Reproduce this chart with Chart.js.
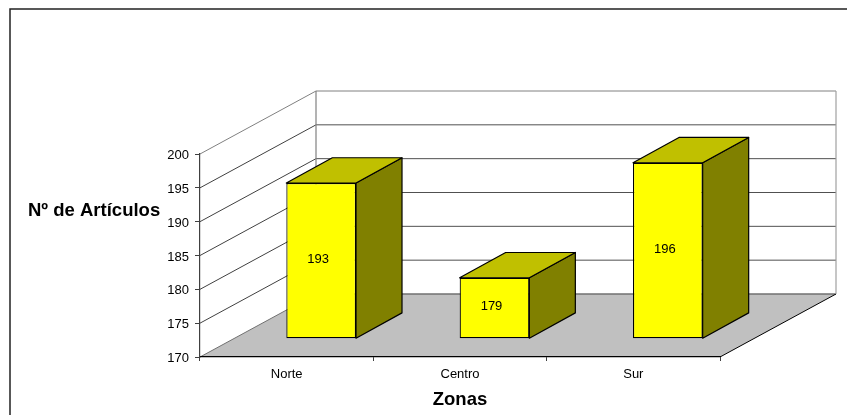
<!DOCTYPE html>
<html>
<head>
<meta charset="utf-8">
<style>
  html, body { margin: 0; padding: 0; background: #fff; overflow: hidden; }
  canvas { display: block; }
</style>
<script src="https://cdn.jsdelivr.net/npm/chart.js@4"></script>
</head>
<body>
<canvas id="chart" width="847" height="415"></canvas>
<script>
const categories = ['Norte', 'Centro', 'Sur'];
const articles = [193, 179, 196];
const yMin = 170;
const yMax = 200;
const yStep = 5;
const xTitle = 'Zonas';
const yTitle = 'Nº de Artículos';

const FONT = '"Liberation Sans", Arial, sans-serif';

// depth of the 3D box, in pixels
const depthX = 116;
const depthY = -63;
const barFrontX = 34.5;
const barFrontY = -18.3;
const barDepthX = 46;
const barDepthY = -25.3;

function poly(ctx, pts, fill, stroke, lineWidth) {
    ctx.beginPath();
    pts.forEach((p, i) => i ? ctx.lineTo(p[0], p[1]) : ctx.moveTo(p[0], p[1]));
    ctx.closePath();
    if (fill) {
        ctx.fillStyle = fill;
        ctx.fill();
    }
    if (stroke) {
        ctx.strokeStyle = stroke;
        ctx.lineWidth = lineWidth || 1;
        ctx.stroke();
    }
}

function line(ctx, x1, y1, x2, y2, color, lineWidth) {
    ctx.beginPath();
    ctx.moveTo(x1, y1);
    ctx.lineTo(x2, y2);
    ctx.strokeStyle = color;
    ctx.lineWidth = lineWidth || 1;
    ctx.stroke();
}

// Frame, walls, floor and gridlines, drawn before the axes so the axis lines stay on top
const box3d = {
    id: 'box3d',
    beforeDraw(chart) {
        const ctx = chart.ctx;
        const a = chart.chartArea;
        const y = chart.scales.y;
        const bx = a.left + depthX;
        const rx = a.right + depthX;
        const floorBack = a.bottom + depthY;

        ctx.save();
        ctx.strokeStyle = '#222';
        ctx.lineWidth = 1.5;
        ctx.strokeRect(10, 9, 900, 600);

        poly(ctx, [[a.left, a.bottom], [bx, floorBack], [rx, floorBack], [a.right, a.bottom]], '#c0c0c0');

        for (let v = yMin + yStep; v <= yMax; v += yStep) {
            const py = y.getPixelForValue(v);
            const color = v === yMax ? '#808080' : '#404040';
            line(ctx, a.left, py, bx, py + depthY, color);
            line(ctx, bx, py + depthY, rx, py + depthY, v === yMax ? '#808080' : '#505050');
        }
        line(ctx, a.left, a.bottom, bx, floorBack, '#707070', 1);
        line(ctx, bx, floorBack, rx, floorBack, '#707070', 1.5);
        line(ctx, a.right, a.bottom, rx, floorBack, '#000');
        line(ctx, bx, a.top + depthY, bx, floorBack, '#808080', 1.2);
        line(ctx, rx, a.top + depthY, rx, floorBack, '#a0a0a0', 1.2);
        ctx.restore();
    },
    // native bars are only the front face, pushed into the box
    beforeDatasetDraw(chart, args) {
        const ctx = chart.ctx;
        ctx.save();
        ctx.translate(barFrontX, barFrontY);
        args.meta.data.forEach(bar => {
            const l = bar.x - bar.width / 2;
            const r = bar.x + bar.width / 2;
            const t = bar.y;
            const b = bar.base;
            ctx.lineJoin = 'round';
            poly(ctx, [[r, t], [r + barDepthX, t + barDepthY], [r + barDepthX, b + barDepthY], [r, b]], '#808000', '#000', 1.2);
            poly(ctx, [[l, t], [l + barDepthX, t + barDepthY], [r + barDepthX, t + barDepthY], [r, t]], '#c0c000', '#000', 1.2);
        });
    },
    afterDatasetDraw(chart) {
        chart.ctx.restore();
    },
    afterDatasetsDraw(chart) {
        const ctx = chart.ctx;
        const meta = chart.getDatasetMeta(0);
        ctx.save();
        ctx.fillStyle = '#000';
        ctx.font = '13px ' + FONT;
        ctx.textAlign = 'center';
        ctx.textBaseline = 'middle';
        meta.data.forEach((bar, i) => {
            ctx.fillText(articles[i], bar.x + barFrontX - 3, (bar.y + bar.base) / 2 + barFrontY - 1.5);
        });
        ctx.restore();
    },
    afterDraw(chart) {
        const ctx = chart.ctx;
        ctx.save();
        ctx.fillStyle = '#000';
        ctx.font = 'bold 18.5px ' + FONT;
        ctx.textAlign = 'left';
        ctx.textBaseline = 'middle';
        ctx.fillText(yTitle, 28, 210.5);
        ctx.restore();
    }
};

new Chart(document.getElementById('chart'), {
    type: 'bar',
    data: {
        labels: categories,
        datasets: [{
            data: articles,
            base: yMin,
            backgroundColor: '#ffff00',
            borderColor: '#000',
            borderWidth: 1.2,
            borderSkipped: false,
            barPercentage: 1,
            categoryPercentage: 0.402,
            clip: false
        }]
    },
    options: {
        responsive: false,
        animation: false,
        layout: {padding: {left: 0, top: 154, right: 127, bottom: 0}},
        plugins: {legend: {display: false}, tooltip: {enabled: false}},
        scales: {
            x: {
                afterFit: scale => { scale.height = 58; },
                grid: {drawOnChartArea: false, tickLength: 4, tickColor: '#404040', offset: true},
                border: {color: '#000', width: 1.2},
                ticks: {color: '#000', font: {family: FONT, size: 13}, padding: 6, maxRotation: 0},
                title: {
                    display: true,
                    text: xTitle,
                    color: '#000',
                    font: {family: FONT, size: 18.5, weight: 'bold'},
                    padding: {top: 0, bottom: 4}
                }
            },
            y: {
                min: yMin,
                max: yMax,
                afterFit: scale => { scale.width = 200; },
                grid: {drawOnChartArea: false, tickLength: 5, tickColor: '#404040'},
                border: {color: '#404040', width: 1.2},
                ticks: {stepSize: yStep, color: '#000', font: {family: FONT, size: 13}, padding: 6, labelOffset: 1.5}
            }
        }
    },
    plugins: [box3d]
});
</script>
</body>
</html>
